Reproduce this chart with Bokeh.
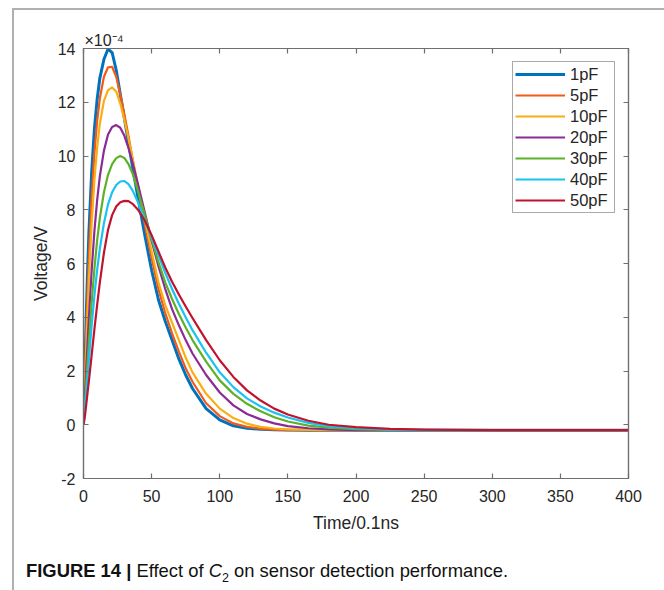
from bokeh.plotting import figure
from bokeh.layouts import column
from bokeh.models import Range1d, FixedTicker, LinearAxis, Legend, LegendItem, Div
from bokeh.embed import file_html
from bokeh.resources import INLINE

# ---------------- data (voltage in units of 1e-4 V) ----------------
time_01ns = [0, 1, 2, 3, 4, 6, 8, 10, 12, 15, 18, 21, 24, 27, 30, 33, 36, 40, 45, 50,
             55, 60, 65, 70, 75, 80, 90, 100, 110, 120, 130, 140, 150, 165, 180, 200,
             225, 250, 300, 350, 400]

v_1pF = [0, 2.0, 4.0, 5.75, 7.2, 9.4, 11.0, 12.1, 12.9, 13.6, 13.98, 13.85, 13.2, 12.3,
         11.4, 10.5, 9.6, 8.45, 7.05, 5.75, 4.65, 3.85, 3.15, 2.45, 1.85, 1.35, 0.6, 0.18,
         -0.04, -0.13, -0.17, -0.19, -0.2, -0.2, -0.2, -0.2, -0.2, -0.2, -0.2, -0.2, -0.2]
v_5pF = [0, 1.7, 3.4, 4.95, 6.3, 8.5, 10.1, 11.3, 12.15, 12.95, 13.3, 13.32, 12.95, 12.3,
         11.55, 10.75, 9.9, 8.8, 7.45, 6.2, 5.05, 4.15, 3.4, 2.72, 2.1, 1.6, 0.8, 0.32,
         0.05, -0.08, -0.15, -0.18, -0.2, -0.2, -0.2, -0.2, -0.2, -0.2, -0.2, -0.2, -0.2]
v_10pF = [0, 1.4, 2.85, 4.2, 5.45, 7.5, 9.1, 10.3, 11.2, 12.05, 12.45, 12.55, 12.4, 11.95,
          11.35, 10.65, 9.9, 8.9, 7.65, 6.45, 5.3, 4.45, 3.8, 3.15, 2.5, 1.95, 1.15, 0.6,
          0.25, 0.04, -0.08, -0.14, -0.17, -0.19, -0.2, -0.2, -0.2, -0.2, -0.2, -0.2, -0.2]
v_20pF = [0, 1.0, 2.05, 3.05, 4.0, 5.75, 7.2, 8.35, 9.25, 10.2, 10.8, 11.08, 11.15, 11.05,
          10.75, 10.3, 9.75, 8.95, 7.9, 6.85, 5.9, 5.05, 4.3, 3.7, 3.15, 2.65, 1.85, 1.2,
          0.72, 0.4, 0.2, 0.05, -0.05, -0.13, -0.17, -0.2, -0.2, -0.2, -0.2, -0.2, -0.2]
v_30pF = [0, 0.75, 1.55, 2.35, 3.1, 4.55, 5.8, 6.85, 7.7, 8.65, 9.3, 9.7, 9.92, 10.0,
          9.93, 9.7, 9.35, 8.7, 7.8, 6.9, 6.05, 5.3, 4.68, 4.12, 3.62, 3.15, 2.35, 1.65,
          1.15, 0.78, 0.5, 0.28, 0.12, -0.03, -0.11, -0.16, -0.19, -0.2, -0.2, -0.2, -0.2]
v_40pF = [0, 0.55, 1.15, 1.8, 2.45, 3.7, 4.8, 5.75, 6.55, 7.5, 8.2, 8.65, 8.92, 9.05,
          9.07, 8.95, 8.72, 8.28, 7.6, 6.95, 6.3, 5.65, 5.05, 4.5, 4.0, 3.52, 2.68, 1.95,
          1.4, 0.98, 0.68, 0.45, 0.27, 0.07, -0.05, -0.13, -0.18, -0.2, -0.2, -0.2, -0.2]
v_50pF = [0, 0.3, 0.75, 1.2, 1.65, 2.6, 3.55, 4.45, 5.3, 6.4, 7.25, 7.8, 8.12, 8.28,
          8.33, 8.32, 8.22, 8.0, 7.6, 7.05, 6.45, 5.85, 5.32, 4.85, 4.4, 3.97, 3.15, 2.4,
          1.78, 1.28, 0.9, 0.6, 0.38, 0.15, 0.0, -0.09, -0.15, -0.18, -0.2, -0.2, -0.2]

series_names = ["1pF", "5pF", "10pF", "20pF", "30pF", "40pF", "50pF"]
series_values = [v_1pF, v_5pF, v_10pF, v_20pF, v_30pF, v_40pF, v_50pF]
series_colors = ["#0072BD", "#F05A1A", "#F9AE12", "#8B2B94", "#5DB12A", "#19C2F0", "#C0132E"]
series_widths = [3.0, 2.2, 2.2, 2.2, 2.2, 2.2, 2.2]

x_ticks = [0, 50, 100, 150, 200, 250, 300, 350, 400]
y_ticks = [-2, 0, 2, 4, 6, 8, 10, 12, 14]
y_tick_labels = {t: str(t) for t in y_ticks}

exponent_text = "\u00d710\u207b\u2074"
caption_html = ("<b>FIGURE 14 |</b> Effect of <i>C</i><sub style='font-size:12.5px'>2</sub>"
                " on sensor detection performance.")

# ---------------- layout ----------------
OX, OY, BW = 12, 8, 2            # outer panel frame position and border width
CX, CY = OX + BW, OY + BW        # content origin
FL, FR, FT, FB = 83, 628, 48, 478   # plot frame in page pixels
FIG_W = 658 - CX
FIG_H = 545 - CY
FONT = "Liberation Sans"
AX = "#6f6f6f"
TXT = "#262626"

p = figure(width=FIG_W, height=FIG_H, output_backend="svg", toolbar_location=None,
           x_range=Range1d(0, 400), y_range=Range1d(-2, 14),
           min_border_left=FL - CX, min_border_right=CX + FIG_W - FR,
           min_border_top=FT - CY, min_border_bottom=CY + FIG_H - FB,
           x_axis_label="Time/0.1ns", y_axis_label="Voltage/V")
p.background_fill_color = "white"
p.border_fill_color = "white"
p.outline_line_color = AX
p.outline_line_width = 1.2
p.xgrid.visible = False
p.ygrid.visible = False

p.title.text = exponent_text
p.title.align = "left"
p.title.offset = 1
p.title.standoff = 0
p.title.text_font = FONT
p.title.text_font_size = "16px"
p.title.text_font_style = "normal"
p.title.text_color = TXT


def style_axis(ax, ticks, show_labels):
    ax.ticker = FixedTicker(ticks=ticks)
    ax.axis_line_color = AX
    ax.axis_line_width = 1.2
    ax.major_tick_line_color = AX
    ax.major_tick_line_width = 1.2
    ax.major_tick_in = 5
    ax.major_tick_out = 0
    ax.minor_tick_line_color = None
    ax.major_label_text_font = FONT
    ax.axis_label_text_font = FONT
    ax.axis_label_text_font_size = "17.5px"
    ax.axis_label_text_font_style = "normal"
    ax.axis_label_text_color = TXT
    if show_labels:
        ax.major_label_text_font_size = "16px"
        ax.major_label_text_color = TXT
    else:
        ax.major_label_text_font_size = "0px"
        ax.major_label_text_color = None
        ax.major_label_standoff = 0


style_axis(p.xaxis[0], x_ticks, True)
style_axis(p.yaxis[0], y_ticks, True)
p.yaxis[0].major_label_overrides = y_tick_labels
p.xaxis[0].major_label_standoff = 11
p.xaxis[0].axis_label_standoff = 8
p.yaxis[0].major_label_standoff = 8
p.yaxis[0].axis_label_standoff = 4

top_ax = LinearAxis()
style_axis(top_ax, x_ticks, False)
p.add_layout(top_ax, "above")
right_ax = LinearAxis()
style_axis(right_ax, y_ticks, False)
p.add_layout(right_ax, "right")

items = []
for name, vals, col, lw in zip(series_names, series_values, series_colors, series_widths):
    r = p.line(time_01ns, vals, line_color=col, line_width=lw, line_join="round")
    items.append(LegendItem(label=name, renderers=[r]))

legend = Legend(items=items, location="top_right", margin=13, padding=2,
                spacing=1, glyph_width=50, glyph_height=20, label_height=20,
                label_width=42, label_standoff=5,
                label_text_font=FONT, label_text_font_size="16.5px",
                label_text_color=TXT, border_line_color="#555555",
                border_line_width=1, background_fill_color="white",
                background_fill_alpha=1.0)
p.add_layout(legend)

caption = Div(text=("<div style=\"margin:11px 0 0 %dpx; font-family:'Liberation Sans';"
                    " font-size:18.4px; line-height:20px; color:#111; white-space:nowrap\">"
                    % (21 - CX)) + caption_html + "</div>",
              width=FIG_W, height=590 - 545)

panel = column(p, caption, margin=(OY, 0, 0, OX), spacing=0,
               styles={"border-top": "%dpx solid #b0b0b0" % BW,
                       "border-left": "%dpx solid #b0b0b0" % BW,
                       "border-right": "%dpx solid #b0b0b0" % BW})

open("out.html", "w").write(file_html(panel, INLINE))
